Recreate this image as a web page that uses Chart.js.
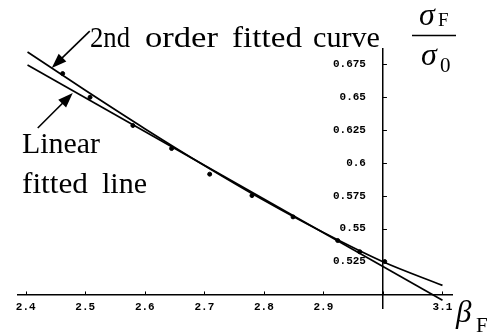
<!DOCTYPE html>
<html>
<head>
<meta charset="utf-8">
<script src="https://cdn.jsdelivr.net/npm/chart.js@4.4.1/dist/chart.umd.min.js"></script>
<style>
  html, body { margin: 0; padding: 0; background: #fff; }
  #wrap { width: 493px; height: 334px; position: relative; }
</style>
</head>
<body>
<div id="wrap"><canvas id="chart"></canvas></div>
<script>
/* ---- data ---- */
const X_TICKS = [2.4, 2.5, 2.6, 2.7, 2.8, 2.9, 3.0, 3.1];
const Y_TICKS = [0.5, 0.525, 0.55, 0.575, 0.6, 0.625, 0.65, 0.675];

// linear fitted line (end points)
const LIN_X = [2.403, 3.1];
const LIN_Y = [0.6745, 0.4956];

// 2nd order fitted curve
const QUAD_X = [2.403, 2.5, 2.6, 2.7, 2.8, 2.9, 3.0, 3.1];
const QUAD_Y = [0.6844, 0.6553, 0.6261, 0.5981, 0.5716, 0.5471, 0.5249, 0.5069];

// measured points
const PT_X = [2.462, 2.508, 2.580, 2.645, 2.709, 2.780, 2.849, 2.924, 2.961, 3.003];
const PT_Y = [0.6680, 0.6500, 0.6285, 0.6110, 0.5915, 0.5752, 0.5590, 0.5410, 0.5325, 0.5250];

const INK = '#000';
const TICK_FONT = { family: '"Liberation Mono", "DejaVu Sans Mono", monospace', size: 11, weight: 'bold' };
const SERIF = '"Liberation Serif", "DejaVu Serif", serif';

const toPts = (xs, ys) => xs.map((x, i) => ({ x: x, y: ys[i] }));

/* labels, arrows, axis titles and small tick marks */
const decor = {
  id: 'decor',
  afterDraw(chart) {
    const ctx = chart.ctx;
    const sx = chart.scales.x, sy = chart.scales.y;
    const ax = sx.getPixelForValue(3.0), ay = sy.getPixelForValue(0.5);
    ctx.save();
    ctx.fillStyle = INK;
    ctx.strokeStyle = INK;

    // tick marks: right of y axis, above x axis
    ctx.lineWidth = 1;
    ctx.beginPath();
    Y_TICKS.forEach(v => {
      const py = Math.round(sy.getPixelForValue(v)) + 0.5;
      ctx.moveTo(ax, py); ctx.lineTo(ax + 4, py);
    });
    X_TICKS.forEach(v => {
      const px = Math.round(sx.getPixelForValue(v)) + 0.5;
      ctx.moveTo(px, ay); ctx.lineTo(px, ay - 3);
    });
    ctx.stroke();

    // y tick labels, left of the axis
    ctx.font = 'bold 11px ' + TICK_FONT.family;
    ctx.textAlign = 'right';
    ctx.textBaseline = 'middle';
    Y_TICKS.forEach(v => {
      if (Math.abs(v - 0.5) < 1e-9) return;
      ctx.fillText(String(Number(v.toFixed(3))), ax - 17, sy.getPixelForValue(v));
    });

    // text labels, each word fitted to its width in the picture
    ctx.textAlign = 'left';
    ctx.textBaseline = 'alphabetic';
    ctx.font = '29px ' + SERIF;
    [['2nd', 90, 47, 40], ['order', 145, 47, 73], ['fitted', 232, 47, 70], ['curve', 313, 47, 67],
     ['Linear', 22, 153, 78], ['fitted', 22, 193, 66], ['line', 102, 193, 45]]
      .forEach(([t, x, y, w]) => {
        const k = w / ctx.measureText(t).width;
        ctx.save();
        ctx.translate(x, y);
        ctx.scale(k, 1);
        ctx.fillText(t, 0, 0);
        ctx.restore();
      });

    // arrows
    const arrow = (tx, ty, dx, dy) => {
      const px = sx.getPixelForValue(tx), py = sy.getPixelForValue(ty);
      const fx = px + dx, fy = py + dy;
      const a = Math.atan2(py - fy, px - fx);
      const L = 15, W = 5.5;
      ctx.lineWidth = 1.6;
      ctx.beginPath();
      ctx.moveTo(fx, fy);
      ctx.lineTo(px - Math.cos(a) * L * 0.8, py - Math.sin(a) * L * 0.8);
      ctx.stroke();
      ctx.beginPath();
      ctx.moveTo(px, py);
      ctx.lineTo(px - Math.cos(a) * L + Math.sin(a) * W, py - Math.sin(a) * L - Math.cos(a) * W);
      ctx.lineTo(px - Math.cos(a) * L - Math.sin(a) * W, py - Math.sin(a) * L + Math.cos(a) * W);
      ctx.closePath();
      ctx.fill();
    };
    arrow(2.4437, 0.6722, 38, -37);
    arrow(2.479, 0.6532, -35, 35);

    // y axis title: sigma_F / sigma_0
    ctx.font = 'italic 32px ' + SERIF;
    ctx.fillText('σ', 419, 25);
    ctx.fillText('σ', 421, 65);
    ctx.font = '19px ' + SERIF;
    ctx.fillText('F', 438, 26);
    ctx.font = '21px ' + SERIF;
    ctx.fillText('0', 440, 72);
    ctx.lineWidth = 1.5;
    ctx.beginPath();
    ctx.moveTo(412, 35.5); ctx.lineTo(456, 35.5);
    ctx.stroke();

    // x axis title: beta_F
    ctx.font = 'italic 31px ' + SERIF;
    ctx.fillText('β', 456, 322);
    ctx.font = '21px ' + SERIF;
    ctx.fillText('F', 476, 332);
    ctx.restore();
  }
};

new Chart(document.getElementById('chart'), {
  type: 'scatter',
  data: {
    datasets: [
      {
        label: 'Linear fitted line',
        data: toPts(LIN_X, LIN_Y),
        showLine: true,
        borderColor: INK,
        borderWidth: 1.7,
        pointRadius: 0,
      },
      {
        label: '2nd order fitted curve',
        data: toPts(QUAD_X, QUAD_Y),
        showLine: true,
        borderColor: INK,
        borderWidth: 1.7,
        pointRadius: 0,
        cubicInterpolationMode: 'monotone',
      },
      {
        label: 'data',
        data: toPts(PT_X, PT_Y),
        backgroundColor: INK,
        borderColor: INK,
        pointRadius: 2,
      }
    ]
  },
  options: {
    responsive: true,
    maintainAspectRatio: false,
    animation: false,
    layout: { padding: { left: 18, right: 41, top: 49, bottom: 26 } },
    plugins: { legend: { display: false }, tooltip: { enabled: false } },
    scales: {
      x: {
        type: 'linear',
        min: 2.387,
        max: 3.116,
        position: { y: 0.5 },
        afterBuildTicks: s => { s.ticks = X_TICKS.map(v => ({ value: v })); },
        grid: { display: false, drawTicks: false },
        border: { display: true, color: INK, width: 1.5 },
        ticks: {
          color: INK,
          font: TICK_FONT,
          padding: 6,
          maxRotation: 0,
          callback: v => (Math.abs(v - 3.0) < 1e-9 ? '' : v.toFixed(1)),
        },
      },
      y: {
        type: 'linear',
        min: 0.4897,
        max: 0.6867,
        position: { x: 3.0 },
        afterBuildTicks: s => { s.ticks = Y_TICKS.map(v => ({ value: v })); },
        grid: { display: false, drawTicks: false },
        border: { display: true, color: INK, width: 1.5 },
        ticks: { display: false },
      }
    }
  },
  plugins: [decor]
});
</script>
</body>
</html>
